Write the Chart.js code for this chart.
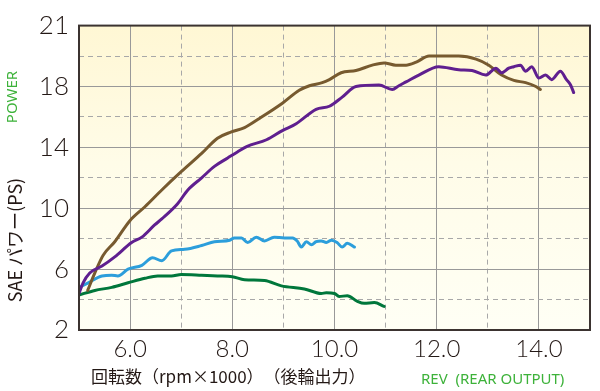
<!DOCTYPE html>
<html><head><meta charset="utf-8">
<script src="https://cdn.jsdelivr.net/npm/chart.js@4"></script>
<style>html,body{margin:0;padding:0;background:#fff}#wrap{width:600px;height:391px}</style>
</head><body><div id="wrap"><canvas id="c" width="600" height="391"></canvas></div>
<script>
// ---- data (rpm ×1000, power PS) ----
const brownRpm   = [5.17,5.31,5.47,5.70,6.0,6.29,6.62,7.0,7.4,7.71,7.97,8.24,8.53,8.98,9.31,9.51,9.76,9.9,10.13,10.42,10.74,10.97,11.2,11.4,11.6,11.85,12.43,12.77,13.02,13.27,13.51,13.74,13.94,14.03];
const brownPower = [4.6,5.75,6.9,7.8,9.2,10.1,11.2,12.4,13.6,14.6,15.0,15.3,15.9,16.9,17.75,18.05,18.25,18.45,18.9,19.05,19.4,19.55,19.4,19.4,19.6,20.0,20.0,19.8,19.4,18.75,18.4,18.25,18.0,17.8];
const purpleRpm   = [5.0,5.08,5.21,5.45,5.70,6.03,6.23,6.48,6.62,6.93,7.13,7.4,7.65,7.91,8.1,8.28,8.67,8.98,9.25,9.64,9.9,10.15,10.42,10.87,11.13,11.26,11.4,11.65,12.04,12.43,12.69,12.96,13.16,13.27,13.41,13.51,13.64,13.74,13.86,14.0,14.13,14.25,14.42,14.54,14.62,14.68];
const purplePower = [4.4,5.1,5.75,6.2,6.8,7.75,8.1,8.9,9.3,10.3,11.2,12.0,12.75,13.3,13.7,14.05,14.5,15.1,15.55,16.5,16.7,17.3,18.0,18.1,17.8,18.05,18.3,18.75,19.3,19.1,19.05,18.75,19.2,18.9,19.2,19.3,19.4,19.0,19.3,18.55,18.75,18.45,19.0,18.45,18.1,17.6];
const blueRpm   = [5.0,5.18,5.45,5.64,5.76,5.96,6.23,6.44,6.62,6.81,7.07,7.4,7.65,7.95,8.04,8.18,8.3,8.47,8.63,8.82,9.02,9.18,9.27,9.35,9.45,9.55,9.64,9.74,9.84,9.94,10.05,10.15,10.25,10.39];
const bluePower = [4.8,5.1,5.55,5.6,5.55,6.0,6.25,6.75,6.55,7.2,7.3,7.55,7.8,7.9,8.05,8.05,7.75,8.1,7.85,8.1,8.05,8.05,7.85,7.45,7.8,7.6,7.8,7.85,7.75,7.9,7.75,7.45,7.7,7.45];
const greenRpm   = [5.0,5.31,5.64,5.96,6.29,6.54,6.81,7.0,7.4,7.71,8.0,8.24,8.63,8.96,9.41,9.74,9.84,10.0,10.09,10.25,10.44,10.58,10.78,10.97];
const greenPower = [4.3,4.6,4.8,5.1,5.4,5.55,5.55,5.65,5.6,5.55,5.5,5.3,5.25,4.9,4.7,4.4,4.45,4.4,4.2,4.25,3.9,3.75,3.8,3.55];

// ---- axis ticks ----
const xMin = 5, xMax = 15;
const xLabelValues = [6, 8, 10, 12, 14];
const xTickLabels  = ['6.0', '8.0', '10.0', '12.0', '14.0'];
const yMin = 2, yMax = 22;
const yLabelValues = [2, 6, 10, 14, 18, 22];
const yTickLabels  = ['2', '6', '10', '14', '18', '21'];

// ---- texts ----
const yTitle = 'SAE パワー(PS)';
const yTitleEn = 'POWER';
const xTitle = '回転数（rpm×1000）　（後輪出力）';
const xTitleEn = 'REV  (REAR OUTPUT)';

const pts = (xs, ys) => xs.map((x, i) => ({x, y: ys[i]}));
const ink = '#231815', greenTxt = '#3db23a', gridC = '#999999', dashC = '#a8a8a8';

const bgPlugin = {
  id: 'bg',
  beforeDraw(chart) {
    const {ctx, chartArea: a} = chart;
    const g = ctx.createLinearGradient(0, a.top, 0, a.bottom);
    g.addColorStop(0, '#fff7d4');
    g.addColorStop(0.45, '#fffce8');
    g.addColorStop(1, '#fffff5');
    ctx.save(); ctx.fillStyle = g; ctx.fillRect(a.left, a.top, a.right - a.left, a.bottom - a.top); ctx.restore();
  },
  afterDraw(chart) {
    const {ctx, chartArea: a} = chart;
    ctx.save();
    ctx.strokeStyle = '#3b3330'; ctx.lineWidth = 2;
    ctx.strokeRect(a.left, a.top, a.right - a.left, a.bottom - a.top);
    // titles
    ctx.fillStyle = ink;
    ctx.font = '17px "Noto Sans CJK JP"';
    ctx.textBaseline = 'middle'; ctx.textAlign = 'left';
    ctx.fillText(xTitle, 91, 377);
    ctx.fillStyle = greenTxt;
    ctx.font = '15px "Noto Sans", "Liberation Sans", sans-serif';
    ctx.fillText(xTitleEn, 421, 380);
    ctx.translate(15, 240); ctx.rotate(-Math.PI / 2);
    ctx.textAlign = 'center';
    ctx.fillStyle = ink; ctx.font = '18px "Noto Sans CJK JP"';
    ctx.fillText(yTitle, 0, 0);
    ctx.restore();
    ctx.save();
    ctx.translate(13, 97); ctx.rotate(-Math.PI / 2);
    ctx.textAlign = 'center'; ctx.textBaseline = 'middle';
    ctx.fillStyle = greenTxt; ctx.font = '15px "Noto Sans", "Liberation Sans", sans-serif';
    ctx.fillText(yTitleEn, 0, 0);
    ctx.restore();
  }
};

const ds = (label, xs, ys, color) => ({
  label, data: pts(xs, ys), borderColor: color, borderWidth: 3, pointRadius: 0,
  fill: false, cubicInterpolationMode: 'monotone', borderCapStyle: 'round', borderJoinStyle: 'round'
});

new Chart(document.getElementById('c'), {
  type: 'line',
  data: { datasets: [
    ds('purple', purpleRpm, purplePower, '#5f1f8f'),
    ds('brown', brownRpm, brownPower, '#775a2f'),
    ds('blue', blueRpm, bluePower, '#2c9edb'),
    ds('green', greenRpm, greenPower, '#00773b')
  ]},
  options: {
    responsive: false, animation: false, devicePixelRatio: 1,
    layout: { padding: { top: 10, right: 10, left: 0, bottom: 0 } },
    plugins: { legend: { display: false }, tooltip: { enabled: false } },
    scales: {
      x: {
        type: 'linear', min: xMin, max: xMax,
        afterFit(s) { s.height = 61; },
        afterBuildTicks(s) { const t = []; for (let v = xMin; v <= xMax; v++) t.push({value: v}); s.ticks = t; },
        ticks: {
          autoSkip: false, maxRotation: 0, padding: 5, color: ink,
          font: { family: 'Lato, "DejaVu Sans", sans-serif', size: 24, weight: 300 },
          callback(v) { const i = xLabelValues.indexOf(v); return i >= 0 ? xTickLabels[i] : ''; }
        },
        grid: { color: (c) => (c.tick && c.tick.value % 2 === 0) ? gridC : dashC, lineWidth: 1, drawTicks: false },
        border: { display: false, dash: (c) => (c.tick && c.tick.value % 2 === 0) ? [] : [5, 4] }
      },
      y: {
        type: 'linear', min: yMin, max: yMax,
        afterFit(s) { s.width = 79; },
        afterBuildTicks(s) { const t = []; for (let v = yMin; v <= yMax; v += 2) t.push({value: v}); s.ticks = t; },
        ticks: {
          autoSkip: false, padding: 10, color: ink,
          font: { family: 'Lato, "DejaVu Sans", sans-serif', size: 26, weight: 300 },
          callback(v) { const i = yLabelValues.indexOf(v); return i >= 0 ? yTickLabels[i] : ''; }
        },
        grid: { color: (c) => (c.tick && c.tick.value % 4 === 2) ? gridC : dashC, lineWidth: 1, drawTicks: false },
        border: { display: false, dash: (c) => (c.tick && c.tick.value % 4 === 2) ? [] : [5, 4] }
      }
    }
  },
  plugins: [bgPlugin]
});
</script></body></html>
